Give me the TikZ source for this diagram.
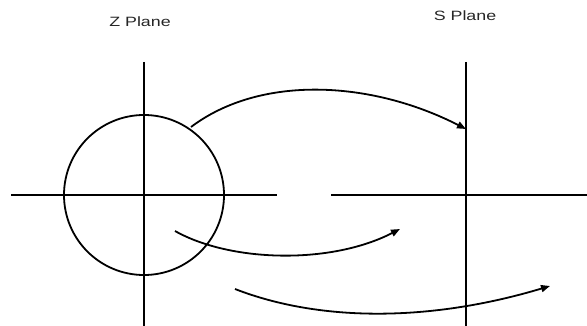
\documentclass[tikz,border=0pt]{standalone}
\usepackage{fontspec}
\setmainfont{Liberation Sans}
\usetikzlibrary{arrows.meta}
\begin{document}
\begin{tikzpicture}[x=1pt,y=-1pt,
  axis/.style={line width=1.8pt},
  map/.style={line width=1.8pt,-{Triangle[length=9pt,width=7pt]}},
  lbl/.style={font=\fontsize{13.5}{15}\selectfont,xscale=1.32,inner sep=0pt,text=black!85}]
\useasboundingbox (0,0) rectangle (587,326);
% Z plane
\coordinate (zc) at (144,195);
\coordinate (zt) at (144,62);
\coordinate (zb) at (144,330);
\coordinate (zl) at (11,195);
\coordinate (zr) at (277,195);
\draw[axis] (zt) -- (zb);
\draw[axis] (zl) -- (zr);
\node[circle,draw,line width=1.8pt,minimum size=160pt,inner sep=0pt] (circ) at (zc) {};
\node[lbl] (zlabel) at (140,21.5) {Z Plane};
% S plane
\coordinate (sc) at (466,195);
\coordinate (st) at (466,62);
\coordinate (sb) at (466,330);
\coordinate (sl) at (331,195);
\coordinate (sr) at (590,195);
\draw[axis] (st) -- (sb);
\draw[axis] (sl) -- (sr);
\node[lbl] (slabel) at (465,16) {S Plane};
% mapping arrows
\coordinate (a1s) at (191,127);
\coordinate (a1e) at (466,129);
\draw[map] (a1s) .. controls (260,75) and (370,80) .. (a1e);
\coordinate (a2s) at (175,231);
\coordinate (a2e) at (400,229);
\draw[map] (a2s) .. controls (230,262) and (330,265) .. (a2e);
\coordinate (a3s) at (235,289);
\coordinate (a3e) at (550,286);
\draw[map] (a3s) .. controls (320,322) and (430,322) .. (a3e);
\end{tikzpicture}
\end{document}
